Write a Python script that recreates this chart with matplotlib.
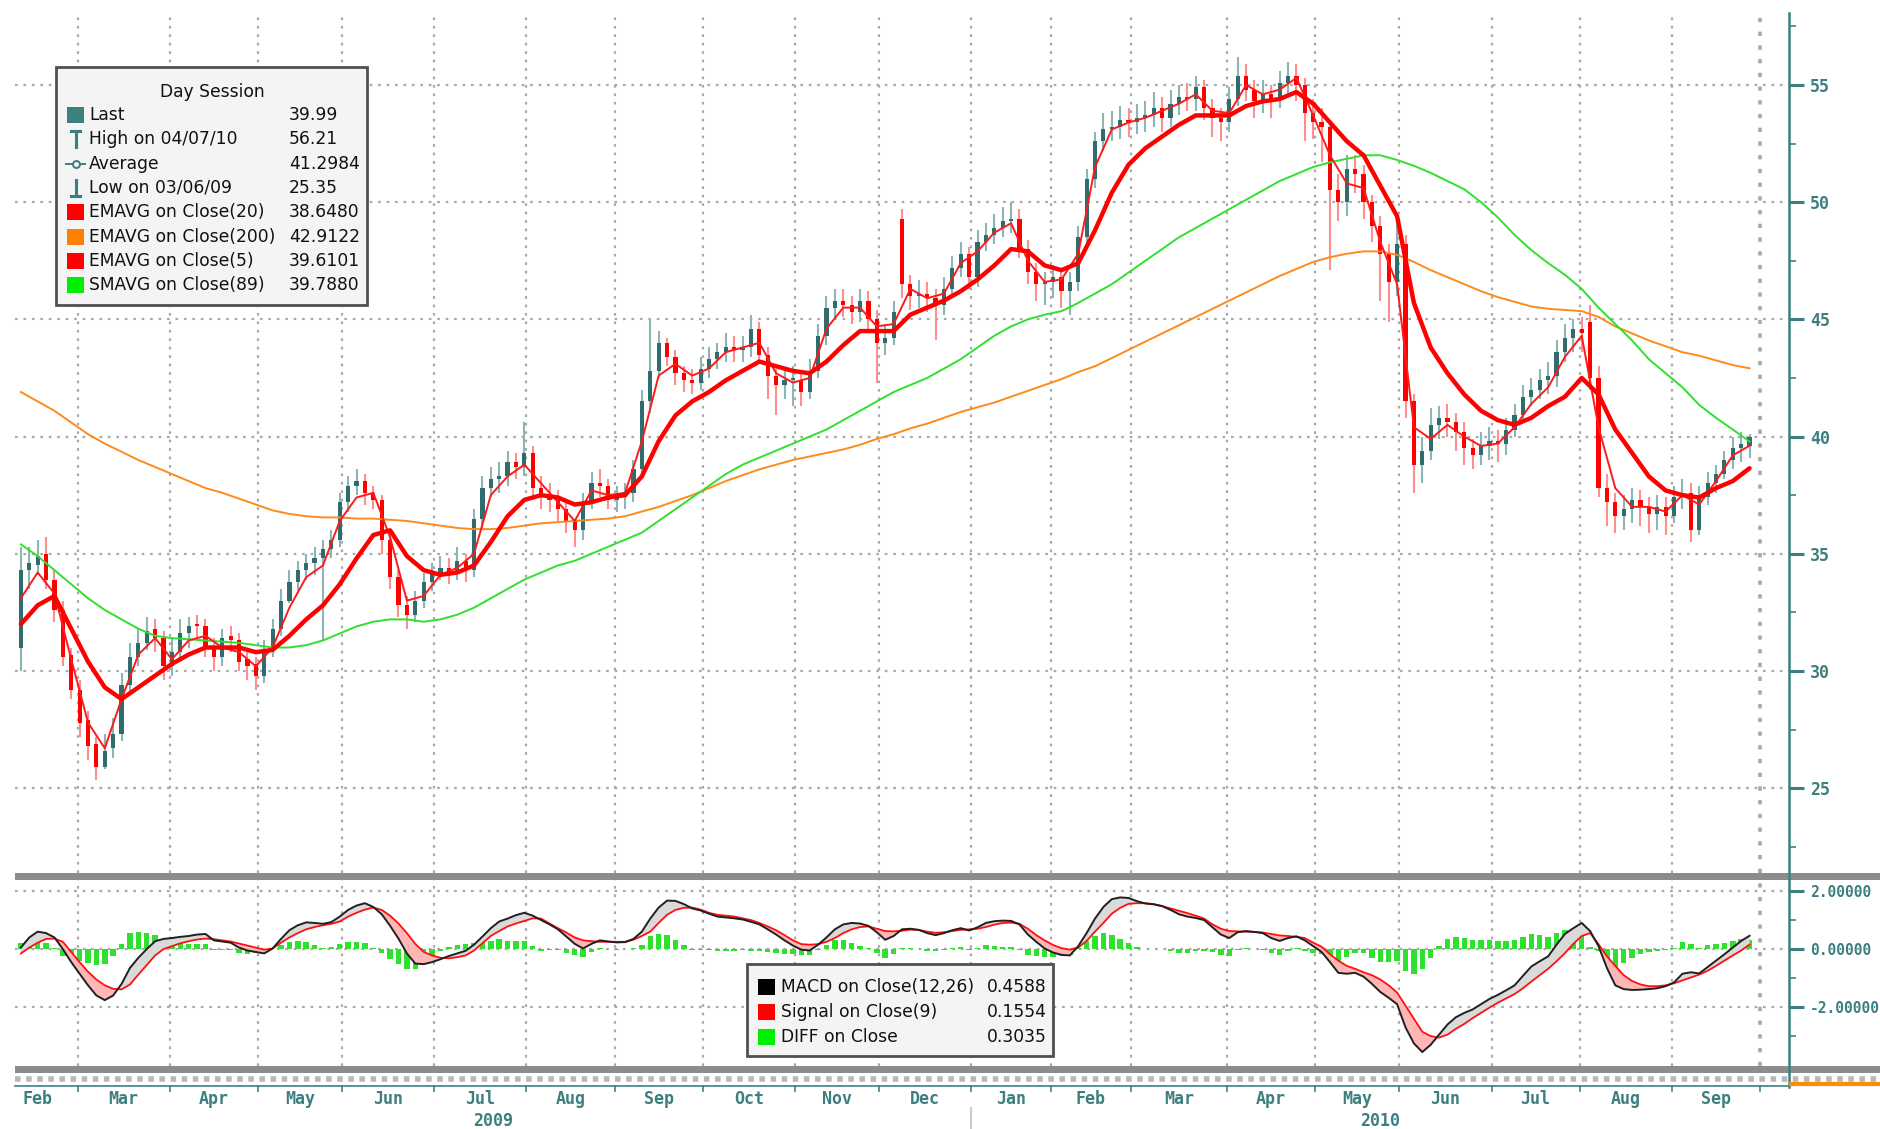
import numpy as np
import pandas as pd
import matplotlib
matplotlib.use("Agg")
import matplotlib.pyplot as plt
import matplotlib.transforms as mtransforms
from matplotlib.patches import Rectangle
from matplotlib.lines import Line2D

# -----------------------
# Data
# -----------------------
START = "2009-02-06"
HOLIDAYS = ["2009-01-19", "2009-02-16", "2009-04-10", "2009-05-25", "2009-07-03",
            "2009-09-07", "2009-11-26", "2009-12-25", "2010-01-01", "2010-01-18",
            "2010-02-15", "2010-04-02", "2010-05-31", "2010-07-05", "2010-09-06"]

# two-day bars (trading day 1, 3, 5, ...)
opens = [31.0, 34.3, 34.5, 35.0, 33.9, 32.6, 30.7, 29.2, 27.9, 26.9,
         25.9, 26.7, 27.3, 29.4, 30.6, 31.2, 31.8, 31.4, 30.2, 30.8,
         31.6, 32.0, 31.9, 31.0, 30.6, 31.5, 31.3, 30.5, 30.3, 29.8,
         30.9, 31.8, 33.0, 33.8, 34.3, 34.6, 34.8, 35.2, 35.6, 37.2,
         37.9, 38.1, 37.6, 37.3, 35.6, 34.0, 32.8, 32.4, 33.0, 33.8,
         34.2, 34.4, 34.2, 34.7, 34.3, 36.5, 37.8, 38.2, 38.3, 38.9,
         38.7, 39.3, 37.8, 37.5, 37.3, 36.9, 36.4, 36.0, 37.2, 38.0,
         37.9, 37.3, 37.4, 37.6, 38.6, 41.5, 42.8, 44.0, 43.4, 42.7,
         42.4, 42.3, 42.9, 43.3, 43.6, 43.8, 43.7, 43.8, 44.6, 43.5,
         42.6, 42.2, 42.4, 42.4, 41.9, 42.8, 44.3, 45.5, 45.8, 45.6,
         45.3, 45.8, 45.0, 44.0, 44.2, 49.3, 46.5, 46.0, 46.1, 45.9,
         45.6, 46.3, 47.2, 47.8, 46.8, 48.3, 48.6, 48.9, 49.2, 49.3,
         48.0, 47.0, 46.5, 46.6, 46.8, 46.2, 46.6, 48.5, 51.0, 52.6,
         53.1, 53.2, 53.5, 53.4, 53.6, 53.7, 54.0, 53.6, 54.2, 54.5,
         54.4, 54.9, 54.0, 53.6, 53.4, 54.4, 55.4, 54.8, 54.3, 54.6,
         54.4, 55.1, 55.4, 55.0, 53.8, 53.4, 53.2, 50.5, 50.0, 51.4,
         51.2, 50.0, 49.0, 47.8, 46.6, 48.2, 41.5, 38.8, 39.4, 40.5,
         40.8, 40.6, 40.2, 39.5, 39.2, 39.6, 39.8, 39.7, 40.3, 40.9,
         41.7, 42.0, 42.4, 42.6, 43.6, 44.2, 44.6, 44.9, 42.5, 37.8,
         37.2, 36.6, 36.9, 37.3, 37.0, 36.7, 37.0, 36.6, 37.4, 37.6,
         36.0, 37.4, 38.0, 38.4, 39.0, 39.5, 39.6]
highs = [35.3, 35.3, 35.6, 35.7, 34.3, 33.0, 31.0, 29.6, 28.3, 27.2,
         27.3, 28.0, 29.9, 31.2, 31.8, 32.3, 32.2, 31.7, 31.4, 32.2,
         32.3, 32.4, 32.2, 31.4, 31.8, 31.9, 31.6, 30.9, 30.6, 31.3,
         32.2, 33.5, 34.3, 34.7, 35.0, 35.3, 35.6, 36.0, 37.6, 38.3,
         38.6, 38.4, 37.9, 37.5, 35.9, 34.3, 33.2, 33.4, 34.2, 34.6,
         34.9, 34.8, 35.3, 35.0, 36.9, 38.3, 38.7, 38.9, 39.4, 39.3,
         40.6, 39.6, 38.3, 38.0, 37.7, 37.2, 36.5, 37.6, 38.5, 38.6,
         38.2, 37.9, 38.0, 39.0, 42.0, 45.0, 44.5, 44.2, 43.7, 43.0,
         42.9, 43.4, 43.8, 44.0, 44.4, 44.3, 44.3, 45.2, 44.9, 43.8,
         42.9, 42.9, 43.0, 42.8, 43.3, 44.8, 46.0, 46.3, 46.3, 46.0,
         46.3, 46.2, 45.4, 44.8, 45.8, 49.7, 46.9, 46.7, 46.6, 46.3,
         46.8, 47.7, 48.3, 48.1, 48.8, 49.1, 49.5, 49.8, 50.0, 49.7,
         48.4, 47.4, 47.0, 47.3, 47.1, 47.0, 49.0, 51.4, 53.0, 53.8,
         53.9, 54.1, 54.0, 54.2, 54.3, 54.7, 54.5, 54.8, 55.0, 55.1,
         55.4, 55.2, 54.4, 54.0, 54.9, 56.21, 55.9, 55.2, 55.2, 55.0,
         55.6, 56.0, 55.9, 55.3, 54.4, 54.0, 53.5, 51.2, 52.0, 52.0,
         51.6, 50.3, 49.4, 48.2, 49.1, 48.6, 41.8, 40.0, 41.2, 41.3,
         41.4, 41.0, 40.6, 39.9, 40.2, 40.4, 40.3, 40.8, 41.4, 42.2,
         42.5, 42.9, 43.2, 44.1, 44.8, 45.0, 45.1, 45.6, 43.0, 38.4,
         37.6, 37.5, 37.8, 37.7, 37.4, 37.5, 37.4, 37.9, 38.2, 38.0,
         37.9, 38.5, 38.8, 39.4, 40.0, 40.2, 40.1]
lows = [30.0, 33.5, 34.1, 33.5, 32.1, 30.2, 28.8, 27.2, 26.2, 25.35,
        25.8, 26.3, 27.0, 29.0, 30.2, 30.9, 30.8, 29.6, 29.8, 30.4,
        31.0, 31.3, 30.6, 30.0, 30.2, 30.8, 30.0, 29.6, 29.2, 29.5,
        30.6, 31.5, 32.9, 33.4, 33.9, 34.1, 31.3, 34.8, 35.3, 36.8,
        37.5, 37.1, 36.9, 35.0, 33.5, 32.3, 31.8, 32.1, 32.7, 33.4,
        33.9, 33.7, 33.9, 33.8, 34.0, 36.1, 37.4, 37.6, 37.9, 38.2,
        38.3, 37.3, 36.9, 36.8, 36.4, 35.9, 35.3, 35.6, 36.9, 37.4,
        36.9, 36.8, 36.9, 37.2, 38.3, 41.0, 42.5, 43.0, 42.2, 41.9,
        41.8, 42.0, 42.5, 42.9, 43.2, 43.2, 43.2, 43.4, 43.1, 41.6,
        40.9, 41.6, 41.3, 41.3, 41.6, 42.5, 43.9, 45.0, 45.1, 44.8,
        44.9, 44.6, 42.3, 43.5, 43.9, 45.9, 45.4, 45.5, 45.3, 44.1,
        45.2, 45.9, 46.8, 46.3, 46.4, 47.9, 48.2, 48.5, 48.7, 47.6,
        46.5, 45.8, 45.6, 45.9, 45.5, 45.2, 46.2, 48.0, 50.6, 52.2,
        52.6, 52.7, 52.8, 52.9, 53.0, 53.2, 53.0, 53.2, 53.7, 53.9,
        53.9, 53.5, 52.8, 52.6, 53.0, 54.1, 54.3, 53.6, 53.8, 53.6,
        54.0, 54.5, 54.3, 52.6, 52.7, 51.7, 47.1, 49.2, 49.4, 50.4,
        49.3, 48.3, 45.8, 44.9, 46.0, 40.8, 37.6, 38.0, 39.0, 39.9,
        40.0, 39.4, 38.8, 38.6, 38.8, 39.0, 38.9, 39.2, 40.0, 40.6,
        41.3, 41.6, 41.8, 42.1, 43.2, 43.6, 43.6, 42.0, 37.4, 36.2,
        35.9, 36.0, 36.3, 36.2, 35.9, 36.0, 35.8, 36.3, 36.9, 35.5,
        35.8, 37.1, 37.6, 38.2, 38.6, 38.9, 39.1]
closes = [34.3, 34.6, 34.9, 33.9, 32.6, 30.6, 29.2, 27.8, 26.8, 25.9,
          26.6, 27.3, 29.4, 30.6, 31.2, 31.7, 31.4, 30.2, 30.8, 31.6,
          31.9, 31.9, 31.0, 30.6, 31.4, 31.3, 30.4, 30.2, 29.8, 30.9,
          31.8, 33.0, 33.8, 34.3, 34.6, 34.8, 35.2, 35.6, 37.2, 37.9,
          38.1, 37.6, 37.3, 35.6, 34.0, 32.8, 32.4, 33.0, 33.8, 34.2,
          34.4, 34.2, 34.7, 34.3, 36.5, 37.8, 38.2, 38.3, 38.9, 38.7,
          39.3, 37.8, 37.5, 37.3, 36.9, 36.4, 36.0, 37.2, 38.0, 37.9,
          37.3, 37.4, 37.6, 38.6, 41.5, 42.8, 44.0, 43.4, 42.7, 42.4,
          42.3, 42.9, 43.3, 43.6, 43.8, 43.7, 43.8, 44.6, 43.5, 42.6,
          42.2, 42.4, 42.4, 41.9, 42.8, 44.3, 45.5, 45.8, 45.6, 45.3,
          45.8, 45.0, 44.0, 44.2, 45.3, 46.5, 46.0, 46.1, 45.9, 45.6,
          46.3, 47.2, 47.8, 46.8, 48.3, 48.6, 48.9, 49.2, 49.3, 48.0,
          47.0, 46.5, 46.6, 46.8, 46.2, 46.6, 48.5, 51.0, 52.6, 53.1,
          53.2, 53.5, 53.4, 53.6, 53.7, 54.0, 53.6, 54.2, 54.5, 54.4,
          54.9, 54.0, 53.6, 53.4, 54.4, 55.4, 54.8, 54.3, 54.6, 54.4,
          55.1, 55.4, 55.0, 53.8, 53.4, 53.2, 50.5, 50.0, 51.4, 51.2,
          50.0, 49.0, 47.8, 46.6, 48.2, 41.5, 38.8, 39.4, 40.5, 40.8,
          40.6, 40.2, 39.5, 39.2, 39.6, 39.8, 39.7, 40.3, 40.9, 41.7,
          42.0, 42.4, 42.6, 43.6, 44.2, 44.6, 44.4, 42.5, 37.8, 37.2,
          36.6, 36.9, 37.3, 37.0, 36.7, 37.0, 36.6, 37.4, 37.6, 36.0,
          37.4, 38.0, 38.4, 39.0, 39.5, 39.7, 39.99]

# moving averages, every 4th trading day (1, 5, 9, ...)
ema5 = [33.1, 34.2, 33.3, 30.5, 27.8, 26.7, 28.8, 30.7, 31.4, 30.5,
        31.3, 31.5, 31.0, 30.8, 30.2, 31.0, 32.7, 34.0, 34.5, 36.4,
        37.4, 37.6, 35.7, 33.0, 33.2, 34.1, 34.4, 35.0, 37.5, 38.3,
        38.8, 38.0, 37.2, 36.4, 37.7, 37.5, 37.6, 39.8, 42.6, 43.1,
        42.6, 42.9, 43.6, 43.8, 44.0, 42.7, 42.3, 42.5, 44.6, 45.5,
        45.5, 44.7, 44.8, 46.3, 45.9, 46.1, 47.4, 47.9, 48.7, 49.1,
        47.5, 46.6, 46.7, 47.8, 51.5, 53.1, 53.4, 53.6, 53.9, 54.2,
        54.6, 53.9, 53.8, 55.0, 54.6, 54.8, 55.3, 53.7, 52.0, 50.8,
        50.6, 48.3, 46.5, 40.4, 39.9, 40.5, 40.0, 39.6, 39.7, 40.4,
        41.4, 42.1, 43.4, 44.3, 40.4, 37.8, 37.0, 37.0, 36.8, 37.5,
        37.1, 38.1, 39.2, 39.61]
ema20 = [32.0, 32.8, 33.2, 31.8, 30.4, 29.3, 28.8, 29.3, 29.8, 30.3,
         30.7, 31.0, 31.0, 31.0, 30.8, 30.9, 31.5, 32.2, 32.8, 33.7,
         34.8, 35.8, 36.0, 34.9, 34.3, 34.1, 34.2, 34.5, 35.5, 36.6,
         37.3, 37.5, 37.4, 37.1, 37.2, 37.4, 37.5, 38.3, 39.8, 40.9,
         41.5, 41.9, 42.4, 42.8, 43.2, 43.0, 42.8, 42.7, 43.2, 43.9,
         44.5, 44.5, 44.5, 45.2, 45.5, 45.8, 46.2, 46.7, 47.3, 48.0,
         47.9, 47.3, 47.1, 47.4, 48.8, 50.4, 51.6, 52.3, 52.8, 53.3,
         53.7, 53.7, 53.7, 54.1, 54.3, 54.4, 54.7, 54.2, 53.4, 52.6,
         52.0, 50.7, 49.4, 45.7, 43.8, 42.7, 41.8, 41.1, 40.7, 40.5,
         40.8, 41.3, 41.7, 42.5, 41.8, 40.3, 39.3, 38.3, 37.7, 37.5,
         37.4, 37.8, 38.1, 38.648]
sma89 = [35.4, 34.9, 34.3, 33.7, 33.1, 32.6, 32.2, 31.8, 31.5, 31.4,
         31.35, 31.3, 31.25, 31.2, 31.1, 31.0, 31.0, 31.1, 31.3, 31.6,
         31.9, 32.1, 32.2, 32.2, 32.1, 32.2, 32.4, 32.7, 33.1, 33.5,
         33.9, 34.2, 34.5, 34.7, 35.0, 35.3, 35.6, 35.9, 36.4, 36.9,
         37.4, 37.9, 38.4, 38.8, 39.1, 39.4, 39.7, 40.0, 40.3, 40.7,
         41.1, 41.5, 41.9, 42.2, 42.5, 42.9, 43.3, 43.8, 44.3, 44.7,
         45.0, 45.2, 45.35, 45.7, 46.1, 46.5, 47.0, 47.5, 48.0, 48.5,
         48.9, 49.3, 49.7, 50.1, 50.5, 50.9, 51.2, 51.5, 51.7, 51.85,
         52.0, 52.0, 51.8, 51.55, 51.25, 50.9, 50.55, 50.0, 49.35, 48.6,
         47.95, 47.4, 46.9, 46.3, 45.5, 44.8, 44.1, 43.3, 42.7, 42.1,
         41.35, 40.8, 40.3, 39.788]
ema200 = [41.9, 41.5, 41.1, 40.6, 40.1, 39.7, 39.35, 39.0, 38.7, 38.4,
          38.1, 37.8, 37.6, 37.35, 37.1, 36.85, 36.7, 36.6, 36.55, 36.55,
          36.5, 36.5, 36.45, 36.4, 36.3, 36.2, 36.1, 36.05, 36.05, 36.1,
          36.2, 36.3, 36.35, 36.4, 36.45, 36.5, 36.6, 36.8, 37.0, 37.25,
          37.5, 37.8, 38.1, 38.35, 38.6, 38.8, 39.0, 39.15, 39.3, 39.45,
          39.65, 39.9, 40.1, 40.35, 40.55, 40.8, 41.05, 41.25, 41.45, 41.7,
          41.95, 42.2, 42.45, 42.75, 43.0, 43.35, 43.7, 44.05, 44.4, 44.75,
          45.1, 45.45, 45.8, 46.15, 46.5, 46.85, 47.15, 47.45, 47.65, 47.8,
          47.9, 47.9, 47.75, 47.45, 47.1, 46.8, 46.5, 46.2, 45.95, 45.75,
          45.55, 45.45, 45.4, 45.35, 45.1, 44.7, 44.4, 44.1, 43.85, 43.6,
          43.45, 43.25, 43.05, 42.912]

# MACD panel, every 2nd trading day
macd = [0.05, 0.40, 0.60, 0.55, 0.40, 0.00, -0.45, -0.85, -1.25, -1.60,
        -1.76, -1.60, -1.20, -0.65, -0.30, 0.00, 0.27, 0.35, 0.38, 0.42,
        0.45, 0.50, 0.52, 0.30, 0.26, 0.22, 0.05, -0.05, -0.10, -0.15,
        0.02, 0.35, 0.65, 0.82, 0.92, 0.90, 0.87, 0.93, 1.12, 1.35,
        1.50, 1.58, 1.45, 1.20, 0.80, 0.36, -0.15, -0.50, -0.52, -0.45,
        -0.35, -0.24, -0.15, -0.06, 0.15, 0.43, 0.72, 0.95, 1.05, 1.17,
        1.25, 1.15, 1.00, 0.85, 0.68, 0.43, 0.18, 0.02, 0.18, 0.30,
        0.26, 0.23, 0.24, 0.35, 0.60, 1.05, 1.43, 1.67, 1.66, 1.55,
        1.40, 1.33, 1.22, 1.12, 1.09, 1.06, 1.02, 0.94, 0.85, 0.68,
        0.50, 0.30, 0.12, -0.02, -0.05, 0.15, 0.40, 0.68, 0.85, 0.90,
        0.88, 0.80, 0.58, 0.32, 0.45, 0.68, 0.70, 0.66, 0.55, 0.48,
        0.55, 0.65, 0.72, 0.64, 0.75, 0.90, 0.96, 0.98, 0.97, 0.85,
        0.50, 0.25, 0.02, -0.12, -0.20, -0.22, 0.10, 0.55, 1.05, 1.45,
        1.72, 1.78, 1.76, 1.65, 1.57, 1.54, 1.48, 1.35, 1.20, 1.12,
        1.07, 1.00, 0.75, 0.50, 0.38, 0.58, 0.62, 0.59, 0.55, 0.38,
        0.28, 0.38, 0.44, 0.30, 0.10, -0.10, -0.45, -0.82, -0.85, -0.82,
        -0.95, -1.20, -1.48, -1.68, -1.90, -2.70, -3.25, -3.55, -3.30, -2.95,
        -2.60, -2.35, -2.20, -2.08, -1.90, -1.72, -1.58, -1.42, -1.25, -0.92,
        -0.60, -0.42, -0.25, 0.15, 0.52, 0.72, 0.90, 0.62, 0.10, -0.65,
        -1.25, -1.38, -1.41, -1.40, -1.38, -1.35, -1.28, -1.15, -0.85, -0.80,
        -0.84, -0.62, -0.40, -0.18, 0.05, 0.28, 0.4588]
signal = [-0.15, 0.05, 0.22, 0.35, 0.36, 0.25, -0.10, -0.45, -0.78, -1.05,
          -1.25, -1.37, -1.39, -1.22, -0.88, -0.55, -0.22, 0.00, 0.10, 0.20,
          0.27, 0.33, 0.36, 0.34, 0.30, 0.26, 0.19, 0.12, 0.05, -0.02,
          0.02, 0.22, 0.40, 0.55, 0.68, 0.76, 0.82, 0.87, 0.95, 1.12,
          1.25, 1.36, 1.43, 1.35, 1.15, 0.88, 0.55, 0.18, -0.10, -0.22,
          -0.30, -0.32, -0.28, -0.22, -0.05, 0.20, 0.45, 0.62, 0.78, 0.88,
          0.97, 1.06, 1.05, 0.88, 0.72, 0.57, 0.40, 0.30, 0.27, 0.25,
          0.25, 0.25, 0.25, 0.32, 0.45, 0.60, 0.90, 1.18, 1.35, 1.42,
          1.43, 1.36, 1.25, 1.18, 1.15, 1.12, 1.06, 1.00, 0.90, 0.78,
          0.65, 0.48, 0.30, 0.17, 0.15, 0.17, 0.25, 0.38, 0.55, 0.68,
          0.76, 0.78, 0.70, 0.62, 0.61, 0.63, 0.67, 0.66, 0.60, 0.56,
          0.58, 0.62, 0.66, 0.68, 0.70, 0.76, 0.84, 0.90, 0.91, 0.87,
          0.70, 0.48, 0.30, 0.14, 0.03, -0.02, 0.05, 0.28, 0.60, 0.90,
          1.22, 1.42, 1.56, 1.58, 1.58, 1.55, 1.48, 1.40, 1.32, 1.24,
          1.15, 1.05, 0.85, 0.70, 0.62, 0.61, 0.60, 0.59, 0.57, 0.52,
          0.47, 0.45, 0.42, 0.38, 0.22, 0.08, -0.18, -0.40, -0.58, -0.68,
          -0.80, -0.90, -1.05, -1.25, -1.50, -1.95, -2.40, -2.85, -3.00, -3.05,
          -2.95, -2.75, -2.58, -2.38, -2.20, -2.02, -1.85, -1.70, -1.55, -1.35,
          -1.12, -0.90, -0.68, -0.42, -0.14, 0.18, 0.45, 0.55, 0.17, -0.25,
          -0.58, -0.90, -1.10, -1.22, -1.28, -1.28, -1.25, -1.18, -1.08, -0.98,
          -0.88, -0.75, -0.58, -0.40, -0.22, -0.05, 0.1554]

PRICE_TICKS = [25, 30, 35, 40, 45, 50, 55]
MACD_TICKS = [-2, 0, 2]
YEARS = ["2009", "2010"]

LEGEND_ROWS = [("Last", "39.99"), ("High on 04/07/10", "56.21"),
               ("Average", "41.2984"), ("Low on 03/06/09", "25.35"),
               ("EMAVG on Close(20)", "38.6480"), ("EMAVG on Close(200)", "42.9122"),
               ("EMAVG on Close(5)", "39.6101"), ("SMAVG on Close(89)", "39.7880")]
MACD_ROWS = [("MACD on Close(12,26)", "0.4588"), ("Signal on Close(9)", "0.1554"),
             ("DIFF on Close", "0.3035")]

# -----------------------
# Style
# -----------------------
W, H = 1881, 1129
TEAL = "#3d7f80"
UP_BODY = "#2f6c6d"
UP_WICK = "#8db5b5"
DN_BODY = "#ff0000"
DN_WICK = "#ff8e8e"
GRID = "#a9a9a9"
ORANGE = "#ff8a1c"
GREEN = "#2fe02f"
AXFONT = dict(family="DejaVu Sans Mono", weight="bold", color=TEAL, fontsize=12)
MACDFONT = dict(AXFONT, fontsize=10.5)


def fx(px):
    return px / W


def fy(py):
    return 1 - py / H


# -----------------------
# Trading-day axis
# -----------------------
days = pd.bdate_range("2009-02-02", "2010-10-29", freq="C", holidays=HOLIDAYS)
pos = np.arange(len(days)) - days.get_loc(pd.Timestamp(START))
first = np.r_[True, days.month[1:] != days.month[:-1]]
m_start = pos[first] - 0.5
m_end = np.r_[m_start[1:], pos[-1] + 0.5]
m_name = days[first].strftime("%b")
m_year = days[first].year

XMIN, XMAX = -0.4, 422.4

op, hi, lo, cl = map(np.array, (opens, highs, lows, closes))
xb = 1 + 2 * np.arange(len(cl))
xl = 1 + 4 * np.arange(len(ema20))
mc, sg = np.array(macd), np.array(signal)
xm = 1 + 2 * np.arange(len(mc))

fig = plt.figure(figsize=(W / 100, H / 100), dpi=100)
fig.patch.set_facecolor("white")
ax = fig.add_axes([fx(15), fy(873), fx(1789) - fx(15), fy(13) - fy(873)])
axm = fig.add_axes([fx(15), fy(1066), fx(1789) - fx(15), fy(880) - fy(1066)])

for a in (ax, axm):
    a.set_xlim(XMIN, XMAX)
    for s in a.spines.values():
        s.set_visible(False)
    a.set_xticks([])
    a.yaxis.tick_right()
    a.tick_params(axis="y", which="major", length=11, width=2.2, color=TEAL, pad=4)
    a.tick_params(axis="y", which="minor", length=5, width=1.2, color=TEAL)
    for xs in m_start:
        if XMIN < xs < XMAX:
            a.axvline(xs, color=GRID, lw=1.6 if xs < 415 else 2.6,
                      ls=(0, (1.2, 2.6)), zorder=0)

# -----------------------
# Price panel
# -----------------------
ax.set_ylim(21.38, 58.07)
ax.set_yticks(PRICE_TICKS)
ax.set_yticks(np.arange(22.5, 58, 5), minor=True)
ax.set_yticklabels([str(t) for t in PRICE_TICKS], **AXFONT)
for t in PRICE_TICKS:
    ax.axhline(t, color=GRID, lw=1.6, ls=(0, (1.2, 2.6)), zorder=0)

up = cl >= op
body_lo = np.minimum(op, cl)
body_h = np.maximum(np.abs(cl - op), 0.08)
ax.vlines(xb[up], lo[up], hi[up], color=UP_WICK, lw=1.5, zorder=2)
ax.vlines(xb[~up], lo[~up], hi[~up], color=DN_WICK, lw=1.5, zorder=2)
ax.bar(xb[up], body_h[up], bottom=body_lo[up], width=1.0, color=UP_BODY, zorder=3)
ax.bar(xb[~up], body_h[~up], bottom=body_lo[~up], width=1.0, color=DN_BODY, zorder=3)

ax.plot(xl, ema200, color=ORANGE, lw=1.4, zorder=4)
ax.plot(xl, sma89, color=GREEN, lw=1.4, zorder=4)
ax.plot(xl, ema5, color="#ff1a1a", lw=1.4, zorder=5)
ax.plot(xl, ema20, color="#ff0000", lw=3.2, zorder=6, solid_capstyle="round")

# -----------------------
# MACD panel
# -----------------------
axm.set_ylim(-4.03, 2.38)
axm.set_yticks(MACD_TICKS)
axm.set_yticks([-3, -1, 1], minor=True)
axm.set_yticklabels(["%.5f" % t for t in MACD_TICKS], **MACDFONT)
for t in MACD_TICKS:
    axm.axhline(t, color=GRID, lw=1.6, ls=(0, (1.2, 2.6)), zorder=0)

diff = mc - sg
axm.bar(xm, diff, width=1.3, color=GREEN, zorder=1)
axm.fill_between(xm, mc, sg, where=mc >= sg, interpolate=True,
                 color="#dadada", zorder=2, lw=0)
axm.fill_between(xm, mc, sg, where=mc < sg, interpolate=True,
                 color="#ffb6b6", zorder=2, lw=0)
axm.plot(xm, sg, color="#ff1010", lw=1.3, zorder=3)
axm.plot(xm, mc, color="#202020", lw=1.4, zorder=4)

# -----------------------
# Frame pieces: right axis, separators, month labels
# -----------------------
fig.add_artist(Line2D([fx(1789), fx(1789)], [fy(13), fy(1087)], color=TEAL, lw=1.8))
fig.add_artist(Rectangle((fx(15), fy(880)), 1 - fx(15), fy(873) - fy(880),
                         color="#8c8c8c", lw=0))
fig.add_artist(Rectangle((fx(15), fy(1073)), 1 - fx(15), fy(1066) - fy(1073),
                         color="#8c8c8c", lw=0))
fig.add_artist(Line2D([fx(15), 1], [fy(1079), fy(1079)], color="#b8b8b8", lw=4,
                      ls=(0, (1, 1))))
fig.add_artist(Line2D([fx(15), fx(1789)], [fy(1086), fy(1086)], color=TEAL, lw=1.2))
fig.add_artist(Line2D([fx(1791), 1], [fy(1084), fy(1084)], color="#ff8c00", lw=3))

bt = mtransforms.blended_transform_factory(axm.transData, fig.transFigure)
for xs in m_start:
    if XMIN < xs < XMAX:
        fig.add_artist(Line2D([xs, xs], [fy(1086), fy(1091)], color=TEAL, lw=1.2,
                              transform=bt))
for s, e, n in zip(m_start, m_end, m_name):
    c = (s + e) / 2
    if XMIN < c < XMAX:
        fig.text(c, fy(1099), n, transform=bt, ha="center", va="center", **AXFONT)
for yr in YEARS:
    sel = (m_year == int(yr))
    lo_x = max(m_start[sel].min(), XMIN)
    hi_x = min(m_end[sel].max(), XMAX)
    fig.text((lo_x + hi_x) / 2, fy(1121), yr, transform=bt, ha="center",
             va="center", **AXFONT)
jan10 = m_start[(m_year == 2010)][0]
fig.add_artist(Line2D([jan10, jan10], [fy(1108), fy(1129)], color="#cccccc", lw=1.5,
                      transform=bt))

# -----------------------
# Legend boxes
# -----------------------
LFONT = dict(family="DejaVu Sans", fontsize=12.3, color="#111111", va="center")


def box(x0, y0, x1, y1):
    fig.add_artist(Rectangle((fx(x0), fy(y1)), fx(x1) - fx(x0), fy(y0) - fy(y1),
                             facecolor="#f4f4f4", edgecolor="#505050", lw=2, zorder=10))


def square(x, y, color):
    fig.add_artist(Rectangle((fx(x), fy(y + 8)), fx(17), 16 / H, facecolor=color,
                             edgecolor="none", zorder=11))


def seg(xs, ys, lw=1.6, color=TEAL):
    fig.add_artist(Line2D([fx(v) for v in xs], [fy(v) for v in ys], color=color,
                          lw=lw, zorder=11))


box(56, 67, 367, 305)
fig.text(fx(212), fy(92), "Day Session", ha="center", zorder=12, **LFONT)
row_y = [115, 139, 164, 188, 212, 237, 261, 285]
for (lab, val), y in zip(LEGEND_ROWS, row_y):
    fig.text(fx(89), fy(y), lab, zorder=12, **LFONT)
    fig.text(fx(289), fy(y), val, zorder=12, **LFONT)
square(67, row_y[0], "#3e7f7f")
seg([75.5, 75.5], [row_y[1] - 8, row_y[1] + 8], lw=2.2)
seg([71, 80], [row_y[1] - 8, row_y[1] - 8], lw=2.2)
seg([66, 85], [row_y[2], row_y[2]], lw=1.4)
fig.add_artist(Line2D([fx(75.5)], [fy(row_y[2])], marker="o", ms=5, color=TEAL,
                      mfc="#f4f4f4", mew=1.4, zorder=12))
seg([75.5, 75.5], [row_y[3] - 8, row_y[3] + 8], lw=2.2)
seg([71, 80], [row_y[3] + 8, row_y[3] + 8], lw=2.2)
for y, c in zip(row_y[4:], ["#ff0000", "#ff8000", "#ff0000", "#00ee00"]):
    square(67, y, c)

box(747, 964, 1053, 1056)
mrow_y = [987, 1012, 1037]
for (lab, val), y, c in zip(MACD_ROWS, mrow_y, ["#000000", "#ff0000", "#00ee00"]):
    square(758, y, c)
    fig.text(fx(781), fy(y), lab, zorder=12, **LFONT)
    fig.text(fx(987), fy(y), val, zorder=12, **LFONT)

fig.savefig("out.png", dpi=100, facecolor="white")
